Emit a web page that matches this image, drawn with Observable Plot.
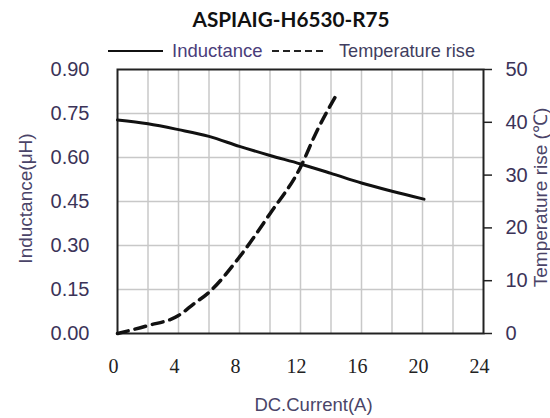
<!DOCTYPE html>
<html>
<head>
<meta charset="utf-8">
<script src="https://cdn.jsdelivr.net/npm/d3@7"></script>
<script src="https://cdn.jsdelivr.net/npm/@observablehq/plot@0.6"></script>
<style>
  html, body { margin: 0; padding: 0; background: #fff; width: 550px; height: 418px; overflow: hidden; }
  #header { display: block; }
  #chart svg { display: block; }
</style>
</head>
<body>
<svg id="header" width="550" height="60"></svg>
<div id="chart"></div>
<script>
// ---- data ----
const title = "ASPIAIG-H6530-R75";
const seriesNames = ["Inductance", "Temperature rise"];
const currentL = [0, 2, 4, 6, 8, 10, 12, 14, 16, 18, 20.1];
const inductance = [0.728, 0.715, 0.695, 0.672, 0.638, 0.607, 0.578, 0.546, 0.513, 0.485, 0.458];
const currentT = [0, 2, 4, 5, 6, 8, 10, 12, 13, 14.4];
const tempRise = [0, 1.5, 3.4, 5.6, 7.8, 14.5, 22.7, 31.5, 37.9, 45.4];
const xTicks = [0, 4, 8, 12, 16, 20, 24];
const xGrid = [2, 4, 6, 8, 10, 12, 14, 16, 18, 20, 22];
const yTicks = [0, 0.15, 0.30, 0.45, 0.60, 0.75, 0.90];
const yGrid = [0.15, 0.30, 0.45, 0.60, 0.75];
const tTicks = [0, 10, 20, 30, 40, 50];
const xLabel = "DC.Current(A)";
const yLabel = "Inductance(μH)";
const y2Label = "Temperature rise (℃)";

const yMax = 0.9, tMax = 50;
const k = yMax / tMax; // map temperature onto inductance scale

const indData = currentL.map((c, i) => ({current: c, value: inductance[i]}));
const tempData = currentT.map((c, i) => ({current: c, temp: tempRise[i]}));

// ---- header (title + legend) ----
const ns = "http://www.w3.org/2000/svg";
const header = document.getElementById("header");
function el(tag, attrs, text) {
  const e = document.createElementNS(ns, tag);
  for (const [a, v] of Object.entries(attrs)) e.setAttribute(a, v);
  if (text) e.textContent = text;
  header.appendChild(e);
  return e;
}
el("text", {x: 291, y: 27, "text-anchor": "middle", "font-family": "Lato, 'Open Sans', sans-serif", "font-weight": 700, "font-size": 20, textLength: 197, lengthAdjust: "spacingAndGlyphs", fill: "#111"}, title);
el("line", {x1: 108, x2: 163, y1: 51, y2: 51, stroke: "#111", "stroke-width": 2});
el("text", {x: 172, y: 57, "font-family": "'Liberation Sans', Arial, sans-serif", "font-size": 18.5, fill: "#4a3d7a"}, seriesNames[0]);
el("line", {x1: 272, x2: 325, y1: 51, y2: 51, stroke: "#222", "stroke-width": 2, "stroke-dasharray": "7,4"});
el("text", {x: 339, y: 57, "font-family": "'Liberation Sans', Arial, sans-serif", "font-size": 18.5, fill: "#3f3d60", textLength: 136, lengthAdjust: "spacingAndGlyphs"}, seriesNames[1]);

// ---- chart ----
const chart = Plot.plot({
  width: 550,
  height: 358,
  marginTop: 9,
  marginBottom: 85,
  marginLeft: 117,
  marginRight: 67,
  style: {fontFamily: "'Liberation Sans', Arial, sans-serif", fontSize: "20px", background: "white", overflow: "visible"},
  x: {domain: [0, 24]},
  y: {domain: [0, yMax]},
  marks: [
    Plot.ruleX(xGrid, {stroke: "#c8c8c8", strokeWidth: 1.5}),
    Plot.ruleY(yGrid, {stroke: "#c8c8c8", strokeWidth: 1.5}),
    Plot.axisX(xTicks, {tickSize: 0, tickPadding: 25, dx: -4, label: null, tickFormat: d => String(d),
      fontFamily: "'Liberation Serif', 'DejaVu Serif', serif", fontSize: 20, fill: "#222"}),
    Plot.axisY(yTicks, {anchor: "left", tickSize: 0, tickPadding: 28, label: null,
      tickFormat: d => d.toFixed(2), fontSize: 20, fill: "#3b3358"}),
    Plot.axisY(tTicks.map(t => t * k), {anchor: "right", tickSize: 8, tickPadding: 14, label: null,
      tickFormat: d => String(Math.round(d / k)), fontSize: 20, fill: "#3b3358", stroke: "#222", strokeWidth: 1.5}),
    Plot.frame({stroke: "#222", strokeWidth: 2}),
    Plot.line(indData, {x: "current", y: "value", stroke: "#111", strokeWidth: 3, curve: "monotone-x"}),
    Plot.line(tempData, {x: "current", y: d => d.temp * k, stroke: "#111", strokeWidth: 3.5, strokeDasharray: "11,7", curve: "monotone-x"}),
    Plot.text([yLabel], {frameAnchor: "left", textAnchor: "middle", lineAnchor: "middle", dx: -92, dy: -3, rotate: -90, fontSize: 19, fill: "#4a4468"}),
    Plot.text([y2Label], {frameAnchor: "right", textAnchor: "middle", lineAnchor: "middle", dx: 57, dy: -4, rotate: -90, fontSize: 19, fill: "#4a4468"}),
    Plot.text([xLabel], {frameAnchor: "bottom", textAnchor: "middle", lineAnchor: "middle", dx: 13, dy: 72, fontSize: 18.5, fill: "#4a4468"})
  ]
});
document.getElementById("chart").appendChild(chart);
</script>
</body>
</html>
